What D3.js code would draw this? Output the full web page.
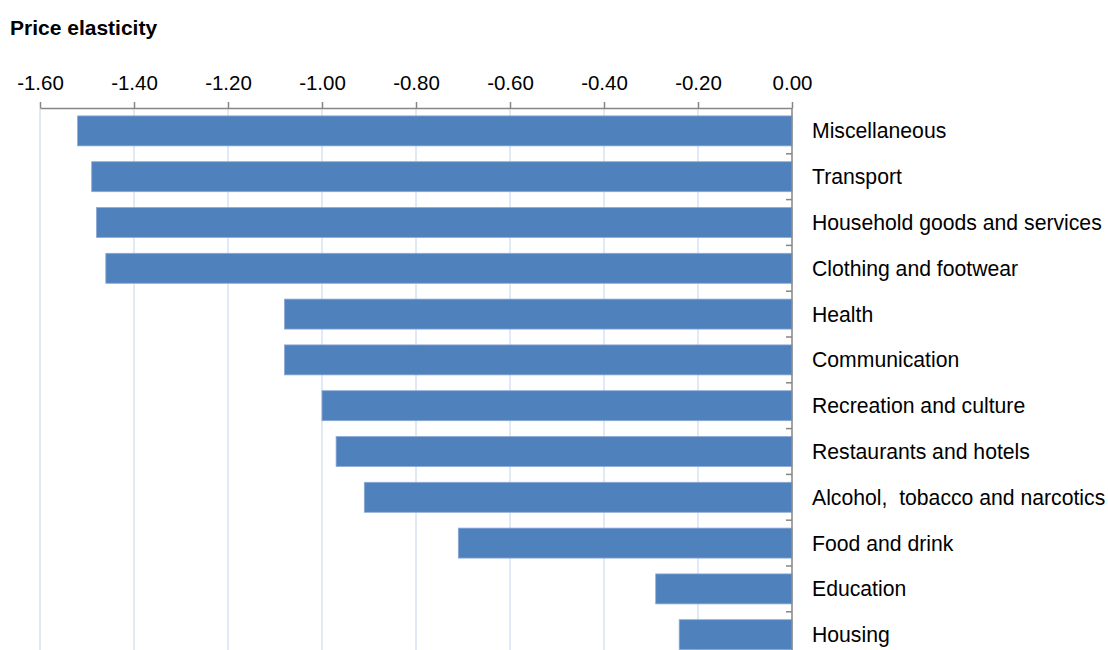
<!DOCTYPE html>
<html>
<head>
<meta charset="utf-8">
<script src="https://cdn.jsdelivr.net/npm/d3@7"></script>
<style>
  html, body { margin: 0; padding: 0; background: #fff; }
  svg { display: block; font-family: "Liberation Sans", Arial, sans-serif; }
</style>
</head>
<body>
<svg id="chart" width="1108" height="650"></svg>
<script>
// Price elasticity of demand by consumption category
const categories = [
  "Miscellaneous",
  "Transport",
  "Household goods and services",
  "Clothing and footwear",
  "Health",
  "Communication",
  "Recreation and culture",
  "Restaurants and hotels",
  "Alcohol,  tobacco and narcotics",
  "Food and drink",
  "Education",
  "Housing"
];
const elasticity = [-1.52, -1.49, -1.48, -1.46, -1.08, -1.08, -1.00, -0.97, -0.91, -0.71, -0.29, -0.24];
const tickValues = [-1.6, -1.4, -1.2, -1.0, -0.8, -0.6, -0.4, -0.2, 0];

const data = categories.map((c, i) => ({ category: c, value: elasticity[i] }));

const svg = d3.select("#chart");
const plotLeft = 40, plotRight = 792, plotTop = 108, step = 45.8;

const x = d3.scaleLinear().domain([-1.6, 0]).range([plotLeft, plotRight]);
const y = d3.scaleBand()
  .domain(categories)
  .range([plotTop, plotTop + step * categories.length])
  .paddingInner(0.345)
  .paddingOuter(0.1725);

// plain hyphen-minus, two decimals
const fmt = d => d3.format(".2f")(d).replace("\u2212", "-");

// Title
svg.append("text")
  .attr("x", 10).attr("y", 35)
  .attr("font-size", 21).attr("font-weight", "bold").attr("fill", "#000")
  .text("Price elasticity");

// Vertical gridlines
svg.append("g")
  .selectAll("line")
  .data(tickValues.filter(v => v !== 0))
  .join("line")
  .attr("x1", d => x(d)).attr("x2", d => x(d))
  .attr("y1", plotTop).attr("y2", 650)
  .attr("stroke", "#d6e2f3").attr("stroke-width", 1.5);

// Bars
svg.append("g")
  .selectAll("rect")
  .data(data)
  .join("rect")
  .attr("x", d => x(d.value))
  .attr("y", d => y(d.category))
  .attr("width", d => x(0) - x(d.value))
  .attr("height", y.bandwidth())
  .attr("fill", "#4f81bd")
  .attr("stroke", "#8eaad6").attr("stroke-width", 0.8);

// Top value axis
const xAxis = d3.axisTop(x)
  .tickValues(tickValues)
  .tickFormat(fmt)
  .tickSize(6)
  .tickSizeOuter(0);
const gx = svg.append("g").attr("transform", `translate(0,${plotTop})`).call(xAxis);
gx.select(".domain").attr("stroke", "#868686").attr("stroke-width", 1.5);
gx.selectAll(".tick line").attr("stroke", "#868686").attr("stroke-width", 1.5);
gx.selectAll(".tick text")
  .attr("font-size", 20.5).attr("fill", "#000")
  .attr("font-family", "'Liberation Sans', Arial, sans-serif")
  .attr("y", -18);

// Category axis at zero, with separators between bands
const boundaries = d3.range(categories.length + 1).map(i => plotTop + i * y.step());
const gy = svg.append("g");
gy.append("line")
  .attr("x1", x(0)).attr("x2", x(0))
  .attr("y1", plotTop).attr("y2", 650)
  .attr("stroke", "#868686").attr("stroke-width", 1.5);
gy.selectAll("line.sep")
  .data(boundaries.slice(1))
  .join("line")
  .attr("class", "sep")
  .attr("x1", x(0) - 6).attr("x2", x(0))
  .attr("y1", d => d).attr("y2", d => d)
  .attr("stroke", "#868686").attr("stroke-width", 1.5);

// Category labels
svg.append("g")
  .selectAll("text")
  .data(categories)
  .join("text")
  .attr("x", 812)
  .attr("y", d => y(d) + y.bandwidth() / 2)
  .attr("dy", "0.35em")
  .attr("font-size", 21.2).attr("fill", "#000")
  .attr("xml:space", "preserve")
  .style("white-space", "pre")
  .text(d => d);
</script>
</body>
</html>
